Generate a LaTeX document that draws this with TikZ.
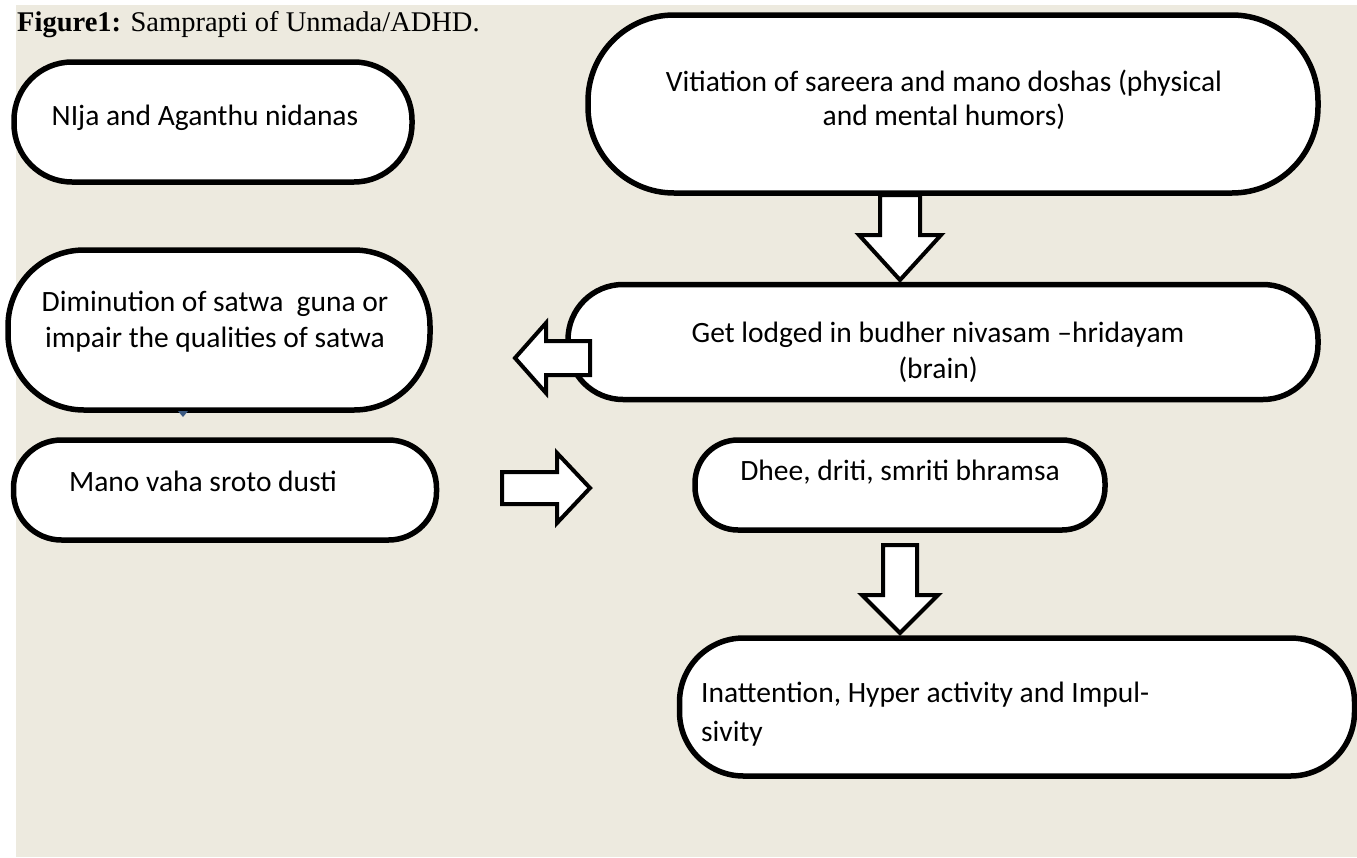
\documentclass[tikz,border=0pt]{standalone}
\usepackage{fontspec}
\setmainfont{Carlito}
\newfontfamily\titlefont{Liberation Serif}
\definecolor{bg}{RGB}{237,234,223}
\definecolor{markblue}{RGB}{60,90,130}
\begin{document}
\begin{tikzpicture}[x=1pt,y=-1pt,
  box/.style={draw=black, line width=5.5pt, fill=white, inner sep=0pt},
  txt/.style={font=\fontsize{29.5}{36}\selectfont, inner sep=0pt, align=center},
  barrow/.style={draw=black, line width=4pt, fill=white, line join=miter}]
\useasboundingbox (0,0) rectangle (1357,857);
\fill[bg] (16,5) rectangle (1357,857);
\node[anchor=base west, inner sep=0pt, font=\titlefont\fontsize{28.5}{32}\selectfont] (title) at (17,31) {\textbf{Figure1:} Samprapti of Unmada/ADHD.};
% boxes
\node[box, minimum width=398pt, minimum height=120pt, rounded corners=58pt] (A) at (213,122) {};
\node[box, minimum width=730pt, minimum height=178pt, rounded corners=86pt] (B) at (953,104) {};
\node[box, minimum width=422pt, minimum height=160pt, rounded corners=76pt] (C) at (219,330) {};
\node[box, minimum width=750pt, minimum height=115pt, rounded corners=55pt] (D) at (943,342) {};
\node[box, minimum width=423pt, minimum height=100pt, rounded corners=48pt] (E) at (225,490) {};
\node[box, minimum width=410pt, minimum height=90pt, rounded corners=43pt] (F) at (900,485) {};
\node[box, minimum width=675pt, minimum height=138pt, rounded corners=64pt] (G) at (1017,707) {};
% texts
\node[txt] (At) at (205,118) {NIja and Aganthu nidanas};
\node[txt, font=\fontsize{29.5}{34}\selectfont] (Bt) at (944,100) {Vitiation of sareera and mano doshas (physical\\and mental humors)};
\node[txt] (Ct) at (215,322) {Diminution of satwa\ \ guna or\\impair the qualities of satwa};
\node[txt] (Dt) at (938,352) {Get lodged in budher nivasam –hridayam\\(brain)};
\node[txt] (Et) at (203,481) {Mano vaha sroto dusti};
\node[txt] (Ft) at (900,472) {Dhee, driti, smriti bhramsa};
\node[txt, align=left, anchor=west, font=\fontsize{29.5}{39}\selectfont] (Gt) at (701,714) {Inattention, Hyper activity and Impul-\\sivity};
% block arrows
\coordinate (d1) at (900,195);
\draw[barrow] (d1) +(-20,0) -- +(20,0) -- +(20,40) -- +(41,40) -- +(0,85) -- +(-41,40) -- +(-20,40) -- cycle;
\coordinate (l1) at (590,358);
\draw[barrow] (l1) +(0,-17) -- +(-44,-17) -- +(-44,-35) -- +(-75,0) -- +(-44,35) -- +(-44,17) -- +(0,17) -- cycle;
\coordinate (r1) at (502,488);
\draw[barrow] (r1) +(0,-16) -- +(55,-16) -- +(55,-35) -- +(88,0) -- +(55,35) -- +(55,16) -- +(0,16) -- cycle;
\coordinate (d2) at (900,545);
\draw[barrow] (d2) +(-17,0) -- +(17,0) -- +(17,50) -- +(38,50) -- +(0,88) -- +(-38,50) -- +(-17,50) -- cycle;
% small mark under C
\coordinate (m1) at (183,411);
\fill[markblue] (m1) +(-5,0) -- +(5,0) -- +(0,6) -- cycle;
\end{tikzpicture}
\end{document}
